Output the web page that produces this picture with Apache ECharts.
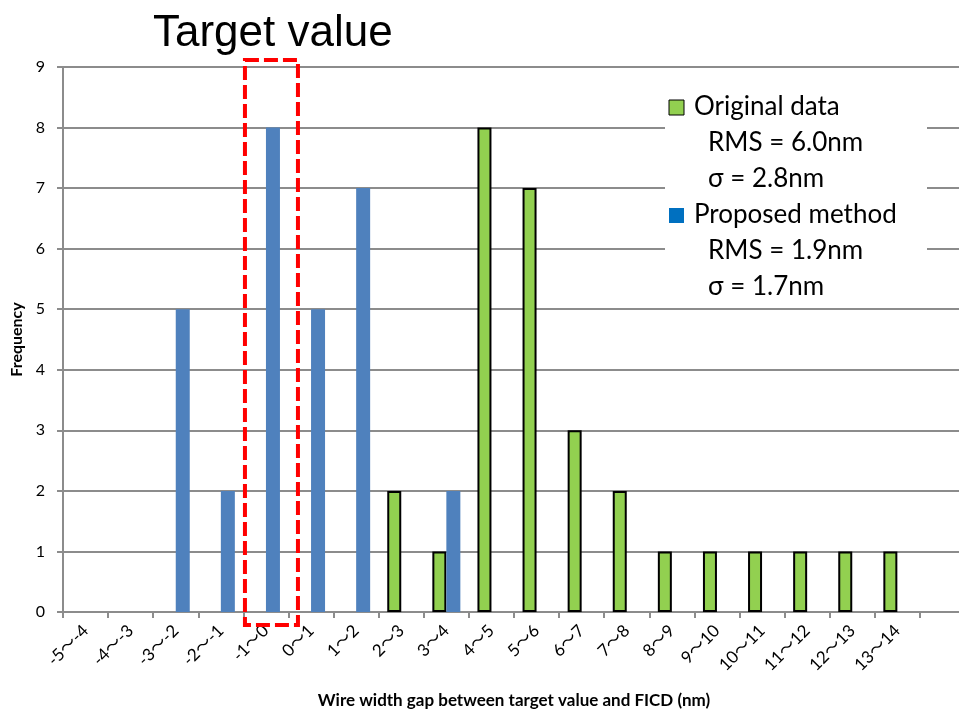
<!DOCTYPE html>
<html>
<head>
<meta charset="utf-8">
<script src="https://cdn.jsdelivr.net/npm/echarts@6/dist/echarts.min.js"></script>
<style>
  html, body { margin: 0; padding: 0; background: #fff; }
  #main { width: 959px; height: 712px; }
</style>
</head>
<body>
<div id="main"></div>
<script>
// bins (last one is an empty slot so the axis runs to the edge)
var categories = ['-5～-4', '-4～-3', '-3～-2', '-2～-1', '-1～0', '0～1', '1～2', '2～3', '3～4', '4～5',
    '5～6', '6～7', '7～8', '8～9', '9～10', '10～11', '11～12', '12～13', '13～14', ''];
var originalData = [null, null, null, null, null, null, null, 2, 1, 8, 7, 3, 2, 1, 1, 1, 1, 1, 1, null];
var proposedData = [null, null, 5, 2, 8, 5, 7, null, 2, null, null, null, null, null, null, null, null, null, null, null];
var yTicks = [0, 9, 1]; // min, max, interval
var seriesNames = ['Original data', 'Proposed method'];
var seriesStats = [['RMS = 6.0nm', 'σ = 2.8nm'], ['RMS = 1.9nm', 'σ = 1.7nm']];
var targetBin = '-1～0';

var myChart = echarts.init(document.getElementById('main'));
var font = 'Lato, "Noto Sans CJK JP", "Noto Sans", sans-serif';
var gridColor = '#8c8c8c';

var option = {
    animation: false,
    backgroundColor: '#fff',
    grid: { left: 63, right: -6, top: 67, bottom: 100, containLabel: false, outerBoundsMode: 'none' },
    xAxis: {
        type: 'category',
        data: categories,
        name: 'Wire width gap between target value and FICD (nm)',
        nameLocation: 'middle',
        nameGap: 80,
        nameTextStyle: { fontFamily: font, fontSize: 17, fontWeight: 'bold', color: '#000' },
        axisLine: { lineStyle: { color: gridColor, width: 2 } },
        axisTick: { show: true, length: 6, lineStyle: { color: gridColor, width: 2 } },
        axisLabel: { rotate: 45, interval: 0, margin: 16, fontFamily: font, fontSize: 17, color: '#000' },
        splitLine: { show: false }
    },
    yAxis: {
        type: 'value',
        min: yTicks[0],
        max: yTicks[1],
        interval: yTicks[2],
        name: 'Frequency',
        nameLocation: 'middle',
        nameGap: 36,
        nameTextStyle: { fontFamily: font, fontSize: 16, fontWeight: 'bold', color: '#000' },
        axisLine: { show: true, lineStyle: { color: gridColor, width: 2 } },
        axisTick: { show: true, length: 6, lineStyle: { color: gridColor, width: 2 } },
        axisLabel: { margin: 18, fontFamily: font, fontSize: 16, color: '#000' },
        splitLine: { lineStyle: { color: gridColor, width: 2 } }
    },
    series: [{
        name: seriesNames[0],
        type: 'bar',
        data: originalData,
        barWidth: 14,
        barGap: '0%',
        itemStyle: { color: '#92D050', borderColor: '#000', borderWidth: 2 }
    }, {
        name: seriesNames[1],
        type: 'bar',
        data: proposedData,
        barWidth: 14,
        barGap: '0%',
        itemStyle: { color: '#4F81BD' }
    }]
};
myChart.setOption(option);

// title, dashed target box and the text legend
var cx = myChart.convertToPixel({ xAxisIndex: 0 }, targetBin);
var yTop = myChart.convertToPixel({ yAxisIndex: 0 }, yTicks[1]);
var yBot = myChart.convertToPixel({ yAxisIndex: 0 }, yTicks[0]);

var legendX = 669, legendY = 107, lineH = 36;
var legendColors = ['#92D050', '#0070C0'];
var legendEls = [{
    type: 'rect', shape: { x: 665, y: 88, width: 262, height: 214 },
    style: { fill: '#fff' }, z: 100
}];
seriesNames.forEach(function (name, i) {
    var y0 = legendY + i * lineH * 3;
    legendEls.push({
        type: 'rect', shape: { x: legendX, y: y0 - 7, width: 15, height: 15 },
        style: { fill: legendColors[i], stroke: i === 0 ? '#000' : null, lineWidth: 1 }, z: 101
    });
    legendEls.push({
        type: 'text', x: legendX + 25, y: y0,
        style: { text: name, font: '26px ' + font, fill: '#000', textVerticalAlign: 'middle' }, z: 101
    });
    seriesStats[i].forEach(function (s, j) {
        legendEls.push({
            type: 'text', x: legendX + 39, y: y0 + (j + 1) * lineH,
            style: { text: s, font: '26px ' + font, fill: '#000', textVerticalAlign: 'middle' }, z: 101
        });
    });
});

myChart.setOption({
    graphic: [{
        type: 'text', x: 153, y: 34,
        style: { text: 'Target value', font: '44px "Liberation Sans", Arial, sans-serif', fill: '#000', textVerticalAlign: 'middle' },
        z: 100
    }, {
        type: 'rect',
        shape: { x: cx - 21, y: yTop - 7, width: 53, height: yBot - yTop + 20 },
        style: { fill: null, stroke: '#ff0000', lineWidth: 4, lineDash: [14, 5] },
        z: 100
    }].concat(legendEls)
});
</script>
</body>
</html>
